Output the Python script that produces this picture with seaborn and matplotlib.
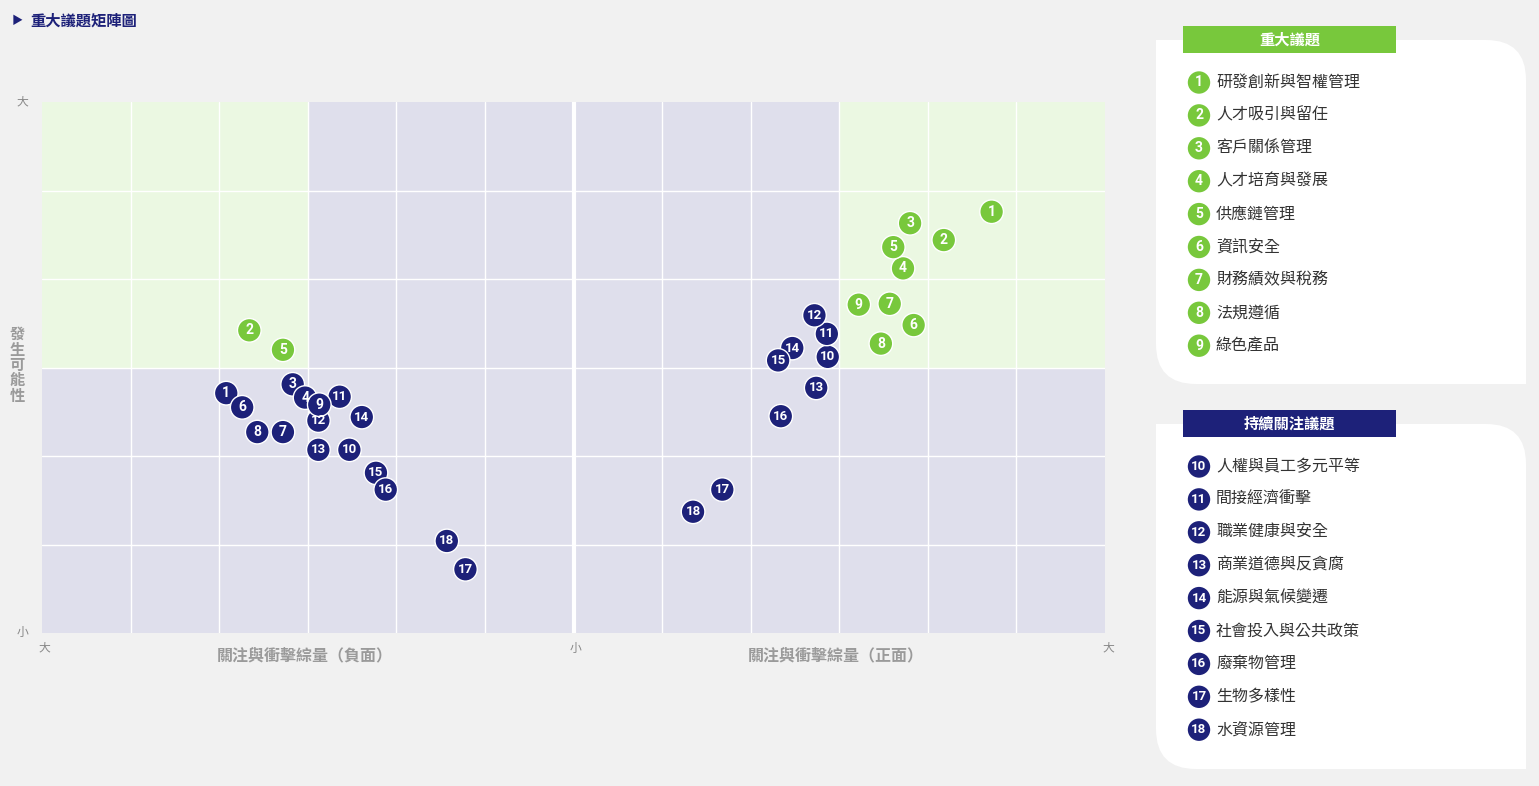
import matplotlib
matplotlib.use("Agg")
import matplotlib.pyplot as plt
from matplotlib.patches import FancyBboxPatch, Rectangle
import pandas as pd
import seaborn as sns

# topic numbers and names
material_ids = [1, 2, 3, 4, 5, 6, 7, 8, 9]
material_names = ["研發創新與智權管理", "人才吸引與留任", "客戶關係管理", "人才培育與發展",
                  "供應鏈管理", "資訊安全", "財務績效與稅務", "法規遵循", "綠色產品"]
concern_ids = [10, 11, 12, 13, 14, 15, 16, 17, 18]
concern_names = ["人權與員工多元平等", "間接經濟衝擊", "職業健康與安全", "商業道德與反貪腐",
                 "能源與氣候變遷", "社會投入與公共政策", "廢棄物管理", "生物多樣性", "水資源管理"]

# negative impact (left half), magnitude 0..6, likelihood 0..6
neg_x = [3.92, 3.66, 3.17, 3.03, 3.28, 3.74, 3.28, 3.57, 2.87,
         2.53, 2.64, 2.88, 2.88, 2.39, 2.23, 2.12, 1.22, 1.43]
neg_y = [2.71, 3.42, 2.81, 2.66, 3.20, 2.55, 2.27, 2.27, 2.58,
         2.07, 2.67, 2.40, 2.07, 2.44, 1.81, 1.62, 0.72, 1.04]
# positive impact (right half)
pos_x = [4.72, 4.18, 3.80, 3.72, 3.61, 3.84, 3.57, 3.47, 3.22,
         2.87, 2.86, 2.72, 2.74, 2.47, 2.31, 2.34, 1.68, 1.35]
pos_y = [4.76, 4.44, 4.63, 4.12, 4.36, 3.48, 3.72, 3.27, 3.71,
         3.12, 3.38, 3.59, 2.77, 3.22, 3.08, 2.45, 1.62, 1.37]

GREEN = "#78c83c"
NAVY = "#1d2179"
BG = "#f1f1f1"
LAV = "#dfdfec"
LGREEN = "#ebf8e2"
FONT = ["Noto Sans CJK TC", "DejaVu Sans"]

ids = material_ids + concern_ids
neg = pd.DataFrame({"id": ids, "x": [-v for v in neg_x], "y": neg_y})
pos = pd.DataFrame({"id": ids, "x": pos_x, "y": pos_y})
# left half: follow-up topics sit under the material ones
neg = pd.concat([neg[neg["id"] >= 10], neg[neg["id"] < 10]])
df = pd.concat([neg, pos], ignore_index=True)
df["zone"] = ["major" if abs(x) >= 3 and y >= 3 else "other" for x, y in zip(df["x"], df["y"])]

sns.set_style("white")
plt.rcParams["font.family"] = FONT

fig = plt.figure(figsize=(15.39, 7.86), dpi=100, facecolor=BG)

# overlay in pixel coords for title and legend cards
bg = fig.add_axes([0, 0, 1, 1], zorder=0)
bg.set_xlim(0, 1539)
bg.set_ylim(786, 0)
bg.axis("off")
bg.patch.set_alpha(0)

bg.text(12, 21, "▶", color=NAVY, fontsize=8, va="center", ha="left")
bg.text(30, 21, "重大議題矩陣圖", color=NAVY, fontsize=11, fontweight="bold", va="center", ha="left")


def card(top, bottom, header, head_color, nums, names, num_color):
    left, right, r = 1156, 1526, 40
    bg.add_patch(FancyBboxPatch((left, top), right - left, bottom - top,
                                boxstyle=f"round,pad=0,rounding_size={r}",
                                fc="white", ec="none"))
    bg.add_patch(Rectangle((left, top), r + 2, r + 2, fc="white", ec="none"))
    bg.add_patch(Rectangle((right - r - 2, bottom - r - 2), r + 2, r + 2, fc="white", ec="none"))
    bg.add_patch(Rectangle((1183, top - 14), 213, 27, fc=head_color, ec="none"))
    bg.text(1289.5, top - 0.5, header, color="white", fontsize=11, fontweight="bold",
            ha="center", va="center")
    for i, (n, name) in enumerate(zip(nums, names)):
        yy = top + 42.5 + i * 32.9
        bg.scatter([1199], [yy], s=260, color=num_color, ec="none", zorder=3)
        bg.text(1199, yy, str(n), color="white", fontsize=10 if n < 10 else 9.5,
                fontweight="bold", ha="center", va="center", zorder=4, family="Roboto")
        bg.text(1216, yy, name, color="#333333", fontsize=11.5, ha="left", va="center")


card(40, 384, "重大議題", GREEN, material_ids, material_names, GREEN)
card(424, 769, "持續關注議題", NAVY, concern_ids, concern_names, NAVY)

# main matrix
ax = fig.add_axes([42 / 1539, (786 - 633) / 786, 1063 / 1539, 531 / 786], zorder=2)
ax.set_facecolor(LAV)
ax.set_xlim(-6, 6)
ax.set_ylim(0, 6)
ax.fill_between([-6, -3], 3, 6, color=LGREEN, lw=0, zorder=0)
ax.fill_between([3, 6], 3, 6, color=LGREEN, lw=0, zorder=0)
for v in range(-5, 6):
    ax.axvline(v, color="white", lw=3 if v == 0 else 1, zorder=1)
for v in range(1, 6):
    ax.axhline(v, color="white", lw=1, zorder=1)
for s in ax.spines.values():
    s.set_visible(False)
ax.set_xticks([])
ax.set_yticks([])

sns.scatterplot(data=df, x="x", y="y", hue="zone", palette={"major": GREEN, "other": NAVY},
                s=290, edgecolor="white", linewidth=1, legend=False, ax=ax, zorder=3)
for _, row in df.iterrows():
    ax.text(row["x"], row["y"], str(row["id"]), color="white", fontsize=10 if row["id"] < 10 else 9.5,
            fontweight="bold", ha="center", va="center", zorder=4, family="Roboto")

ax.set_xlabel("")
ax.set_ylabel("")

# axis texts in pixel coords
for tx, ty, t in [(22, 102, "大"), (22, 632, "小"), (44, 648, "大"), (575, 648, "小"), (1108, 648, "大")]:
    bg.text(tx, ty, t, color="#888888", fontsize=8.5, ha="center", va="center")
bg.text(305, 655, "關注與衝擊綜量（負面）", color="#9a9a9a", fontsize=11.5, fontweight="bold",
        ha="center", va="center")
bg.text(836, 655, "關注與衝擊綜量（正面）", color="#9a9a9a", fontsize=11.5, fontweight="bold",
        ha="center", va="center")
bg.text(17, 365, "\n".join("發生可能性"), color="#9a9a9a", fontsize=11, fontweight="bold",
        ha="center", va="center", linespacing=0.95)

fig.savefig("out.png", dpi=100, facecolor=BG)
